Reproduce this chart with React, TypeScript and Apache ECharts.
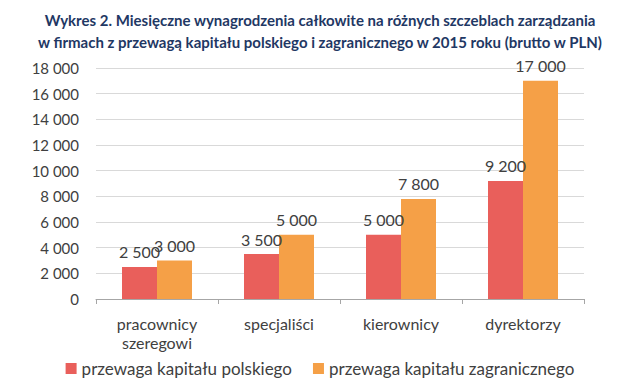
import React, { useEffect, useRef } from "react";
import * as echarts from "echarts";

const categories = ["pracownicy\nszeregowi", "specjaliści", "kierownicy", "dyrektorzy"];
const polski = [2500, 3500, 5000, 9200];
const zagraniczny = [3000, 5000, 7800, 17000];
const seriesNames = ["przewaga kapitału polskiego", "przewaga kapitału zagranicznego"];
const titleLines = [
  "Wykres 2. Miesięczne wynagrodzenia całkowite na różnych szczeblach zarządzania",
  "w firmach z przewagą kapitału polskiego i zagranicznego w 2015 roku (brutto w PLN)",
];

const fmt = (v: number) => {
  const s = String(Math.round(v));
  return s.replace(/\B(?=(\d{3})+(?!\d))/g, " ");
};

const FONT = "Lato, 'Open Sans', sans-serif";

export default function App() {
  const ref = useRef<HTMLDivElement>(null);
  useEffect(() => {
    if (!ref.current) return;
    const chart = echarts.init(ref.current, undefined, { renderer: "svg" });
    const labelCfg = {
      show: true,
      position: "top" as const,
      distance: 7,
      color: "#404040",
      fontSize: 16,
      fontFamily: FONT,
      formatter: (p: any) => fmt(p.value),
    };
    chart.setOption({
      animation: false,
      backgroundColor: "#ffffff",
      title: {
        text: titleLines.join("\n"),
        left: "center",
        top: 4,
        textStyle: {
          color: "#1F3864",
          fontSize: 15,
          fontWeight: "bold",
          fontFamily: FONT,
          lineHeight: 22,
        },
      },
      legend: {
        top: 355,
        left: "center",
        itemWidth: 11,
        itemHeight: 11,
        itemGap: 21,
        icon: "rect",
        textStyle: { color: "#404040", fontSize: 17, fontFamily: FONT },
        data: seriesNames,
      },
      grid: { left: 96, right: 56, top: 68, bottom: 93, containLabel: false },
      xAxis: {
        type: "category",
        data: categories,
        axisLine: { lineStyle: { color: "#a6a6a6" } },
        axisTick: { show: true, length: 5, lineStyle: { color: "#a6a6a6" } },
        axisLabel: {
          color: "#404040",
          fontSize: 16,
          fontFamily: FONT,
          margin: 15,
          lineHeight: 19,
        },
      },
      yAxis: {
        type: "value",
        min: 0,
        max: 18000,
        interval: 2000,
        axisLine: { show: false },
        axisTick: { show: false },
        splitLine: { lineStyle: { color: "#d9d9d9" } },
        axisLabel: {
          color: "#404040",
          fontSize: 15,
          fontFamily: FONT,
          margin: 17,
          formatter: (v: number) => fmt(v),
        },
      },
      series: [
        {
          name: seriesNames[0],
          type: "bar",
          data: polski,
          barWidth: 35,
          barGap: "0%",
          itemStyle: { color: "#E95F5B" },
          label: labelCfg,
        },
        {
          name: seriesNames[1],
          type: "bar",
          data: zagraniczny,
          barWidth: 35,
          barGap: "0%",
          itemStyle: { color: "#F5A047" },
          label: labelCfg,
        },
      ],
    });
    return () => chart.dispose();
  }, []);
  return (
    <div
      ref={ref}
      style={{ position: "fixed", left: 0, top: 0, width: 640, height: 392 }}
    />
  );
}
